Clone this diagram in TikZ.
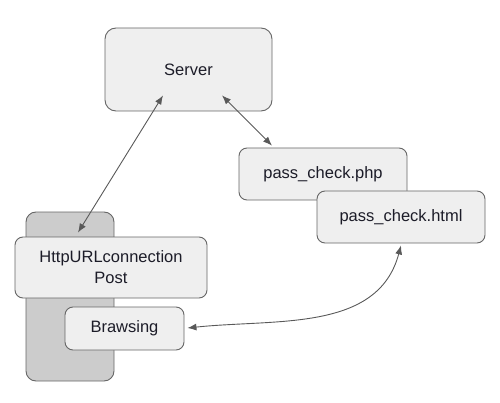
\documentclass[tikz,border=0pt]{standalone}
\usepackage{fontspec}
\setmainfont{Liberation Sans}
\usetikzlibrary{calc,arrows.meta}
\definecolor{boxfill}{HTML}{EFEFEF}
\definecolor{boxline}{HTML}{666666}
\definecolor{backfill}{HTML}{CCCCCC}
\definecolor{arrowcol}{HTML}{595959}
\definecolor{txtcol}{HTML}{1C1C28}
\begin{document}
\begin{tikzpicture}[x=1pt,y=1pt,
	box/.style={draw=boxline, fill=boxfill, line width=0.9pt, rounded corners=8pt, align=center, text=txtcol, font=\fontsize{16.5}{20}\selectfont, inner sep=0pt},
	link/.style={{Latex[length=9pt,width=7pt]}-{Latex[length=9pt,width=7pt]}, arrowcol, line width=0.9pt}]
		\useasboundingbox (0,0) rectangle (500,402);
		% left group
		\node[draw=boxline, fill=backfill, line width=0.9pt, rounded corners=10pt, minimum width=88pt, minimum height=169pt] (client) at (70,105.5) {};
		\node[box, minimum width=192pt, minimum height=61pt] (http) at (111,134.5) {HttpURLconnection\\[1pt]Post};
		\node[box, minimum width=119pt, minimum height=43pt] (brawse) at (124.5,73.5) {Brawsing};
		% server side
		\node[box, rounded corners=11pt, minimum width=167pt, minimum height=83pt] (server) at (188.5,332.5) {Server};
		\node[box, minimum width=168pt, minimum height=52pt] (php) at (323,228) {pass\_check.php};
		\node[box, minimum width=168pt, minimum height=52pt] (html) at (401,185) {pass\_check.html};
		% link ends
		\coordinate (srvL) at ($(server.south)+(-25.5,16)$);
		\coordinate (srvR) at ($(server.south)+(33.5,16)$);
		\coordinate (httpT) at ($(http.north)+(-33,4)$);
		\coordinate (phpT) at ($(php.north)+(-51,2)$);
		\coordinate (htmlB) at ($(html.south)+(0,-2)$);
		\coordinate (brawseR) at ($(brawse.east)+(3,0.5)$);
		\draw[link] (srvL) -- (httpT);
		\draw[link] (srvR) -- (phpT);
		\draw[link] (htmlB) to[out=-105,in=6] (brawseR);
		\end{tikzpicture}
\end{document}
